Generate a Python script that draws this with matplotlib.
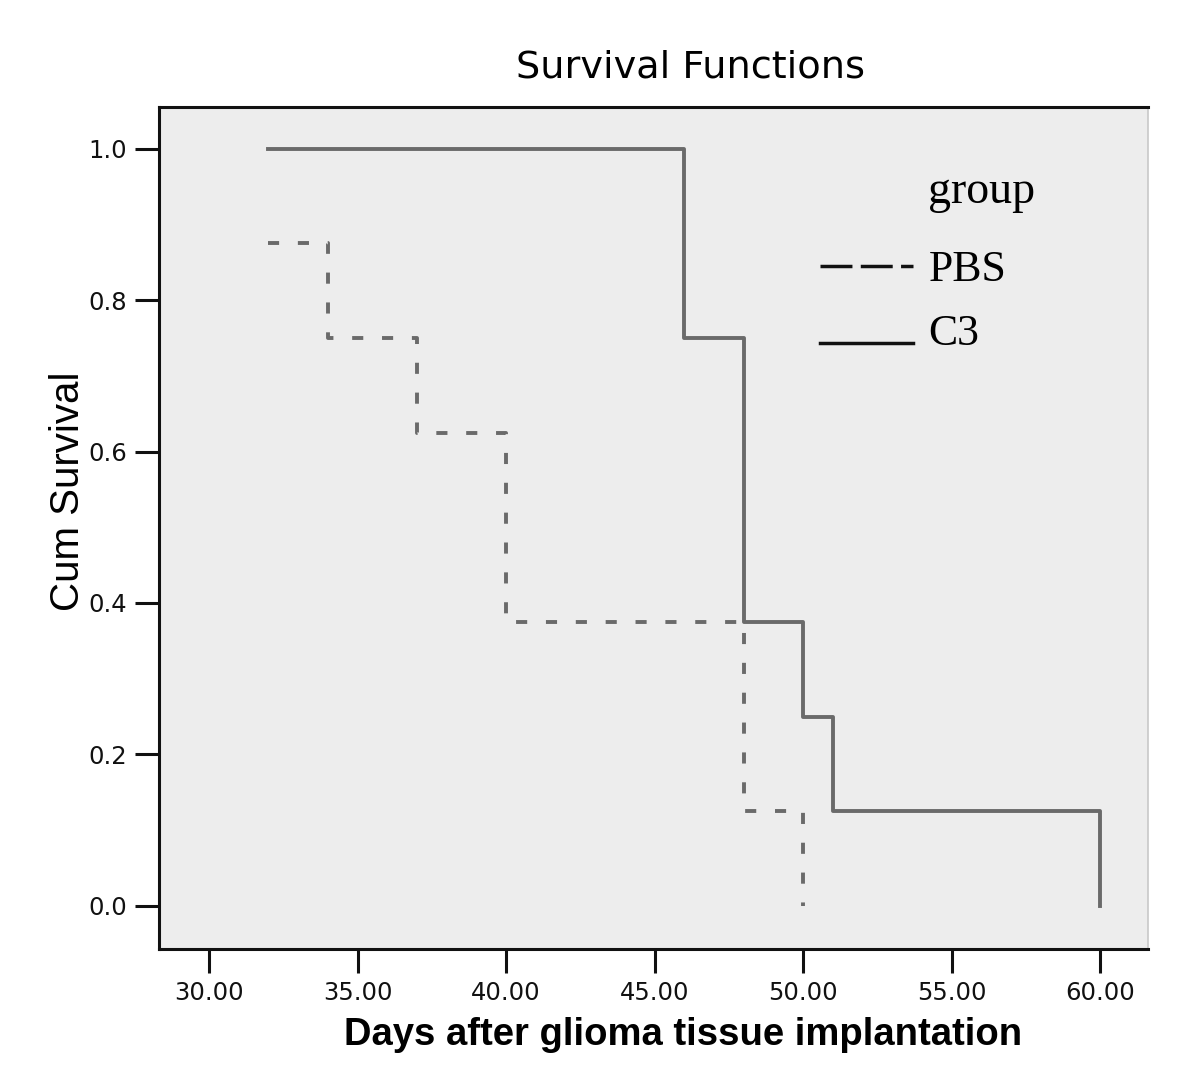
import matplotlib
matplotlib.use("Agg")
import matplotlib.pyplot as plt

# Data (Kaplan-Meier step functions)
pbs_days = [32, 34, 37, 40, 48, 50]
pbs_surv = [0.875, 0.75, 0.625, 0.375, 0.125, 0.0]
c3_days = [32, 46, 48, 50, 51, 60]
c3_surv = [1.0, 0.75, 0.375, 0.25, 0.125, 0.0]
xticks = [30, 35, 40, 45, 50, 55, 60]
yticks = [0.0, 0.2, 0.4, 0.6, 0.8, 1.0]

plt.rcParams['lines.scale_dashes'] = False

fig = plt.figure(figsize=(12, 10.9), dpi=100)
ax = fig.add_axes([159/1200, 1-949/1090, (1148-159)/1200, (949-107)/1090])
ax.set_facecolor('#ededed')

line_col = '#6a6a6a'
ax.step(pbs_days, pbs_surv, where='post', color=line_col, lw=2.8,
        dashes=(8, 13.5))
ax.step(c3_days, c3_surv, where='post', color=line_col, lw=2.8)

ax.set_xlim(28.32, 61.6)
ax.set_ylim(-0.057, 1.055)
ax.set_xticks(xticks)
ax.set_xticklabels([f"{v:.2f}" for v in xticks])
ax.set_yticks(yticks)
ax.set_yticklabels([f"{v:.1f}" for v in yticks])

ax.tick_params(axis='both', direction='out', length=17, width=2.2, color='#111111',
               labelsize=17.5, pad=6)
for t in ax.get_xticklabels() + ax.get_yticklabels():
    t.set_fontfamily('DejaVu Sans')
    t.set_color('#111111')

for s in ['left', 'bottom', 'top']:
    ax.spines[s].set_linewidth(2.2)
    ax.spines[s].set_color('#111111')
ax.spines['right'].set_linewidth(1.2)
ax.spines['right'].set_color('#c8c8c8')

ax.set_xlabel('Days after glioma tissue implantation', fontsize=27.5,
              fontweight='bold', family='Liberation Sans')
ax.xaxis.set_label_coords(0.530, -0.102)
ax.xaxis.label.set_va('center')
ax.set_ylabel('Cum Survival', fontsize=29, family='Liberation Sans')
ax.yaxis.set_label_coords(-0.092, 0.544)
ax.yaxis.label.set_va('center')

ax.text(0.537, 1.0475, 'Survival Functions', transform=ax.transAxes,
        ha='center', va='center', fontsize=27.5, family='DejaVu Sans')

# Legend drawn manually
ax.text(0.778, 0.886, 'group', transform=ax.transAxes, ha='left',
        va='baseline', fontsize=33, family='Liberation Serif')
ax.plot([0.668, 0.762], [0.811, 0.811], transform=ax.transAxes,
        color='#111111', lw=2.5, dashes=(23, 6))
ax.text(0.778, 0.793, 'PBS', transform=ax.transAxes, ha='left',
        va='baseline', fontsize=31.5, family='Liberation Serif')
ax.plot([0.668, 0.762], [0.720, 0.720], transform=ax.transAxes,
        color='#111111', lw=2.5)
ax.text(0.778, 0.717, 'C3', transform=ax.transAxes, ha='left',
        va='baseline', fontsize=31.5, family='Liberation Serif')

fig.savefig('out.png', dpi=100, facecolor='white')
